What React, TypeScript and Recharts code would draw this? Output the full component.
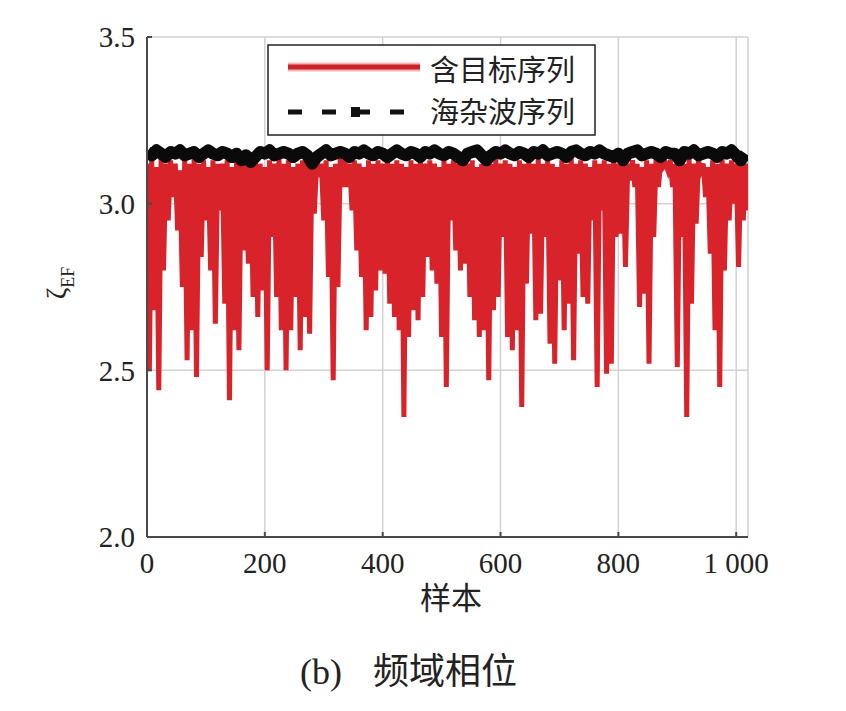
import { CartesianGrid, Line, LineChart, XAxis, YAxis } from 'recharts';

// 含目标序列: one value every 4 samples
const targetSeq = [
  3.12, 2.50, 3.13, 2.68, 3.11, 2.44, 3.14, 2.80, 3.12, 2.95, 3.13, 3.02, 3.12, 2.92, 3.10, 2.75,
  3.13, 2.53, 3.12, 2.62, 3.14, 2.48, 3.12, 2.84, 3.13, 2.95, 3.11, 2.80, 3.13, 2.64, 3.12, 2.98,
  3.12, 2.70, 3.13, 2.41, 3.11, 2.62, 3.13, 2.56, 3.12, 2.86, 3.14, 2.82, 3.12, 2.72, 3.13, 2.66,
  3.12, 2.74, 3.11, 2.50, 3.13, 2.90, 3.12, 2.72, 3.14, 2.62, 3.12, 2.50, 3.13, 2.62, 3.11, 2.72,
  3.12, 2.56, 3.13, 2.66, 3.12, 2.61, 3.14, 2.97, 3.13, 3.08, 3.12, 2.95, 3.13, 2.78, 3.11, 2.47,
  3.12, 2.75, 3.14, 3.05, 3.13, 3.05, 3.12, 2.98, 3.13, 2.86, 3.12, 2.78, 3.11, 2.62, 3.13, 2.66,
  3.12, 2.74, 3.13, 2.80, 3.12, 2.79, 3.14, 2.70, 3.12, 2.66, 3.13, 2.62, 3.12, 2.36, 3.11, 2.60,
  3.13, 2.68, 3.12, 2.65, 3.14, 2.72, 3.12, 2.84, 3.13, 2.80, 3.12, 2.76, 3.11, 2.60, 3.13, 2.45,
  3.12, 2.95, 3.13, 2.86, 3.12, 2.80, 3.14, 2.82, 3.12, 2.72, 3.13, 2.65, 3.11, 2.60, 3.12, 2.62,
  3.13, 2.47, 3.12, 2.68, 3.14, 2.72, 3.12, 2.90, 3.13, 2.60, 3.12, 2.56, 3.11, 2.62, 3.13, 2.39,
  3.12, 2.76, 3.13, 2.91, 3.12, 2.65, 3.14, 2.67, 3.12, 2.90, 3.13, 2.58, 3.12, 2.52, 3.11, 2.77,
  3.13, 2.62, 3.12, 2.70, 3.14, 2.53, 3.12, 2.85, 3.13, 2.72, 3.12, 2.70, 3.11, 2.95, 3.13, 2.45,
  3.12, 2.98, 3.13, 2.49, 3.12, 2.52, 3.14, 2.90, 3.12, 2.91, 3.13, 2.81, 3.12, 3.07, 3.13, 3.05,
  3.12, 2.69, 3.11, 2.73, 3.13, 2.52, 3.12, 2.90, 3.14, 3.05, 3.13, 3.11, 3.12, 3.10, 3.13, 3.05,
  3.12, 2.51, 3.13, 2.90, 3.12, 2.36, 3.14, 2.70, 3.12, 2.94, 3.13, 3.10, 3.12, 3.02, 3.11, 2.85,
  3.13, 2.62, 3.12, 2.45, 3.14, 2.80, 3.12, 2.95, 3.13, 3.00, 3.12, 2.81, 3.13, 2.95, 3.12, 2.98,
];

// 海杂波序列: one value every 8 samples
const clutterSeq = [
  3.155, 3.145, 3.160, 3.150, 3.140, 3.155, 3.150, 3.160, 3.145, 3.150, 3.155, 3.140, 3.150, 3.160, 3.150, 3.145,
  3.155, 3.150, 3.140, 3.150, 3.130, 3.145, 3.125, 3.140, 3.155, 3.150, 3.160, 3.145, 3.150, 3.155, 3.150, 3.140,
  3.150, 3.155, 3.145, 3.120, 3.140, 3.150, 3.160, 3.145, 3.150, 3.155, 3.150, 3.140, 3.155, 3.150, 3.160, 3.150,
  3.145, 3.155, 3.150, 3.140, 3.150, 3.160, 3.150, 3.145, 3.155, 3.150, 3.140, 3.155, 3.150, 3.160, 3.150, 3.145,
  3.155, 3.150, 3.140, 3.130, 3.150, 3.155, 3.160, 3.145, 3.130, 3.145, 3.155, 3.150, 3.160, 3.150, 3.145, 3.155,
  3.150, 3.140, 3.155, 3.150, 3.160, 3.145, 3.150, 3.155, 3.150, 3.140, 3.155, 3.160, 3.150, 3.145, 3.155, 3.150,
  3.160, 3.150, 3.145, 3.140, 3.150, 3.130, 3.150, 3.155, 3.160, 3.145, 3.150, 3.155, 3.150, 3.140, 3.155, 3.150,
  3.150, 3.130, 3.155, 3.150, 3.160, 3.145, 3.150, 3.155, 3.150, 3.140, 3.155, 3.150, 3.160, 3.145, 3.130, 3.150,
];

const xTicks = [0, 200, 400, 600, 800, 1000];
const yTicks = [2.0, 2.5, 3.0, 3.5];

const targetData = targetSeq.map((v, i) => ({ n: i * 4, v }));
const clutterData = clutterSeq.map((v, i) => ({ n: i * 8, v }));

const AXIS = '#4a4a4a';
const RED = '#d8232a';
const serif = '"Liberation Serif", "Times New Roman", serif';
const cjk = '"Noto Sans CJK SC", sans-serif';

const tickStyle = { fontSize: 29, fontFamily: serif, fill: '#222' };

const fmtX = (v: number) => (v >= 1000 ? '1 000' : String(v));

function SampleLabel() {
  return (
    <text x={443} y={601} textAnchor="middle" fontFamily={cjk} fontSize={31} fill="#222">
      样本
    </text>
  );
}

function ZetaLabel() {
  return (
    <text x={58} y={275} transform="rotate(-90 58 275)" textAnchor="middle" fontFamily={serif} fontSize={28} fill="#222">
      ζ
      <tspan fontSize={18} dy={8}>EF</tspan>
    </text>
  );
}

export default function App() {
  return (
    <div style={{ position: 'relative', width: 830, height: 700 }}>
      <LineChart width={830} height={700} margin={{ top: 29, right: 90, bottom: 111, left: 0 }}>
        <CartesianGrid stroke="#d2d2d2" strokeWidth={1.5} />
        <XAxis
          type="number"
          dataKey="n"
          domain={[0, 1020]}
          ticks={xTicks}
          tickFormatter={fmtX}
          height={60}
          tick={tickStyle}
          tickSize={-5}
          tickMargin={20}
          axisLine={{ stroke: AXIS, strokeWidth: 2 }}
          tickLine={{ stroke: AXIS, strokeWidth: 2 }}
          label={SampleLabel}
          allowDataOverflow
        />
        <XAxis
          xAxisId="top"
          orientation="top"
          type="number"
          domain={[0, 1020]}
          ticks={xTicks}
          height={0}
          tick={false}
          tickSize={-5}
          axisLine={{ stroke: AXIS, strokeWidth: 2 }}
          tickLine={{ stroke: AXIS, strokeWidth: 2 }}
        />
        <YAxis
          type="number"
          domain={[2, 3.5]}
          ticks={yTicks}
          tickFormatter={(v: number) => v.toFixed(1)}
          width={139}
          tick={tickStyle}
          tickSize={-5}
          tickMargin={17}
          axisLine={{ stroke: AXIS, strokeWidth: 2 }}
          tickLine={{ stroke: AXIS, strokeWidth: 2 }}
          label={ZetaLabel}
          allowDataOverflow
        />
        <YAxis
          yAxisId="right"
          orientation="right"
          type="number"
          domain={[2, 3.5]}
          ticks={yTicks}
          width={0}
          tick={false}
          tickSize={-5}
          axisLine={{ stroke: AXIS, strokeWidth: 2 }}
          tickLine={{ stroke: AXIS, strokeWidth: 2 }}
        />
        <Line data={targetData} dataKey="v" name="含目标序列" stroke={RED} strokeWidth={5} dot={false} isAnimationActive={false} />
        <Line data={clutterData} dataKey="v" name="海杂波序列" stroke="#0a0a0a" strokeWidth={12} strokeLinejoin="round" dot={false} isAnimationActive={false} />
      </LineChart>

      <svg width={830} height={700} style={{ position: 'absolute', left: 0, top: 0, pointerEvents: 'none' }}>
        <rect x={260} y={37} width={327} height={90} fill="#fff" stroke="#222" strokeWidth={1.5} />
        <line x1={280} y1={59} x2={412} y2={59} stroke="#f1b5b5" strokeWidth={9} />
        <line x1={280} y1={59} x2={412} y2={59} stroke="#cc2229" strokeWidth={5} />
        <text x={422} y={60} dominantBaseline="central" fontFamily={cjk} fontSize={29} fill="#222">含目标序列</text>
        <line x1={280} y1={104} x2={396} y2={104} stroke="#111" strokeWidth={5} strokeDasharray="14 20" />
        <rect x={343} y={99} width={9} height={10} fill="#111" />
        <text x={422} y={102} dominantBaseline="central" fontFamily={cjk} fontSize={29} fill="#222">海杂波序列</text>

        <text x={292} y={676} fontFamily={serif} fontSize={36} fill="#222">(b)</text>
        <text x={365} y={676} fontFamily={cjk} fontSize={36} fill="#222">频域相位</text>
      </svg>
    </div>
  );
}
